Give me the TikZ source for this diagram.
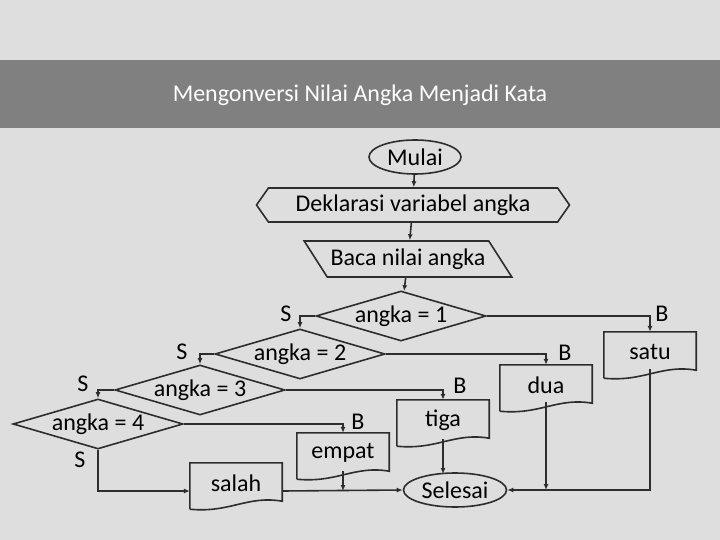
\documentclass[tikz,border=0pt]{standalone}
\usepackage{fontspec}
\setmainfont{Carlito}
\usetikzlibrary{shapes.geometric,shapes.symbols,positioning,arrows.meta,calc}
\definecolor{bggray}{RGB}{222,222,222}
\definecolor{titlegray}{RGB}{128,128,128}
\definecolor{linegray}{RGB}{45,45,45}
\tikzset{
    % flowchart styles
    terminal/.style={ellipse, draw=linegray, line width=1.6pt, fill=bggray,
        minimum width=#1, minimum height=34pt, inner sep=0pt},
    prepbox/.style={signal, signal to=west and east, draw=linegray, line width=1.6pt,
        minimum width=313pt, minimum height=34pt, inner sep=0pt, signal pointer angle=110},
    iobox/.style={trapezium, trapezium left angle=130, trapezium right angle=50,
        draw=linegray, line width=1.6pt, minimum width=205pt, minimum height=36pt,
        trapezium stretches=true},
    decision/.style={diamond, draw=linegray, line width=1.6pt, aspect=3.5,
        minimum width=170pt, minimum height=50pt, inner sep=0pt},
    docbox/.style={minimum width=92pt, minimum height=40pt, inner sep=0pt},
    flow/.style={draw=linegray, line width=1.6pt, -{Latex[length=6pt,width=5pt]}},
    line/.style={draw=linegray, line width=1.6pt},
    lbl/.style={inner sep=0pt}
}
\begin{document}
\begin{tikzpicture}[x=1pt,y=-1pt,font=\fontsize{24}{28}\selectfont]
\useasboundingbox (0,0) rectangle (720,540);
\fill[bggray] (0,0) rectangle (720,540);
\fill[titlegray] (0,60) rectangle (720,128);
\node[text=white] (title) at (360,95) {Mengonversi Nilai Angka Menjadi Kata};

% start and input
\node[terminal=92pt] (start) at (415,157) {Mulai};
\node[prepbox] (decl) at (413,205) {Deklarasi variabel angka};
\node[iobox] (read) at (408,259) {Baca nilai angka};

% decisions
\node[decision] (d1) at (401,316) {angka = 1};
\node[decision] (d2) at (300,354) {angka = 2};
\node[decision] (d3) at (200,390) {angka = 3};
\node[decision] (d4) at (98,424) {angka = 4};

% outputs
\node[docbox] (satu) at (650,352) {satu};
\node[docbox] (dua) at (546,385) {dua};
\node[docbox] (tiga) at (443,420) {tiga};
\node[docbox] (empat) at (343,453) {empat};
\node[docbox] (salah) at (236,483) {salah};
\node[terminal=103pt] (end) at (455,490) {Selesai};

% document outlines
\foreach \n in {satu,dua,tiga,empat,salah}
  \draw[line, fill=none] ($(\n.south west)+(0,6)$) -- (\n.north west) -- (\n.north east) -- ($(\n.south east)+(0,-2)$)
    .. controls ($(\n.south east)+(-35,-8)$) and ($(\n.south west)+(40,10)$) .. ($(\n.south west)+(0,6)$);

% main flow
\draw[flow] (start) -- (decl);
\draw[flow] (decl) -- (read);
\draw[flow] (read) -- (d1);

% S branches
\coordinate (s1) at (300,316);
\coordinate (s2) at (200,354);
\coordinate (s3) at (98,390);
\draw[flow] (d1.west) -- (s1) -- (d2.north);
\draw[flow] (d2.west) -- (s2) -- (d3.north);
\draw[flow] (d3.west) -- (s3) -- (d4.north);
\draw[flow] (d4.south) |- ($(salah.west)+(0,8)$);
\node[lbl] (ls1) at (286,314) {S};
\node[lbl] (ls2) at (182,352) {S};
\node[lbl] (ls3) at (83,384) {S};
\node[lbl] (ls4) at (80,460) {S};

% B branches
\draw[flow] (d1.east) -| (satu.north);
\draw[flow] (d2.east) -| (dua.north);
\draw[flow] (d3.east) -| (tiga.north);
\draw[flow] (d4.east) -| (empat.north);
\node[lbl] (lb1) at (662,314) {B};
\node[lbl] (lb2) at (565,353) {B};
\node[lbl] (lb3) at (460,386) {B};
\node[lbl] (lb4) at (358,422) {B};

% to end
\coordinate (jl) at (343,491);
\coordinate (jr) at (546,490);
\coordinate (jt) at (443,474);
\draw[flow] ($(salah.east)+(0,8)$) -- (end.west);
\draw[flow] ($(empat.south)+(0,-2)$) -- (jl);
\draw[flow] ($(tiga.south)+(0,-1)$) -- (jt);
\draw[flow] ($(satu.south)+(0,-3)$) |- (end.east);
\draw[flow] ($(dua.south)+(0,-3)$) -- (jr);
\end{tikzpicture}
\end{document}
